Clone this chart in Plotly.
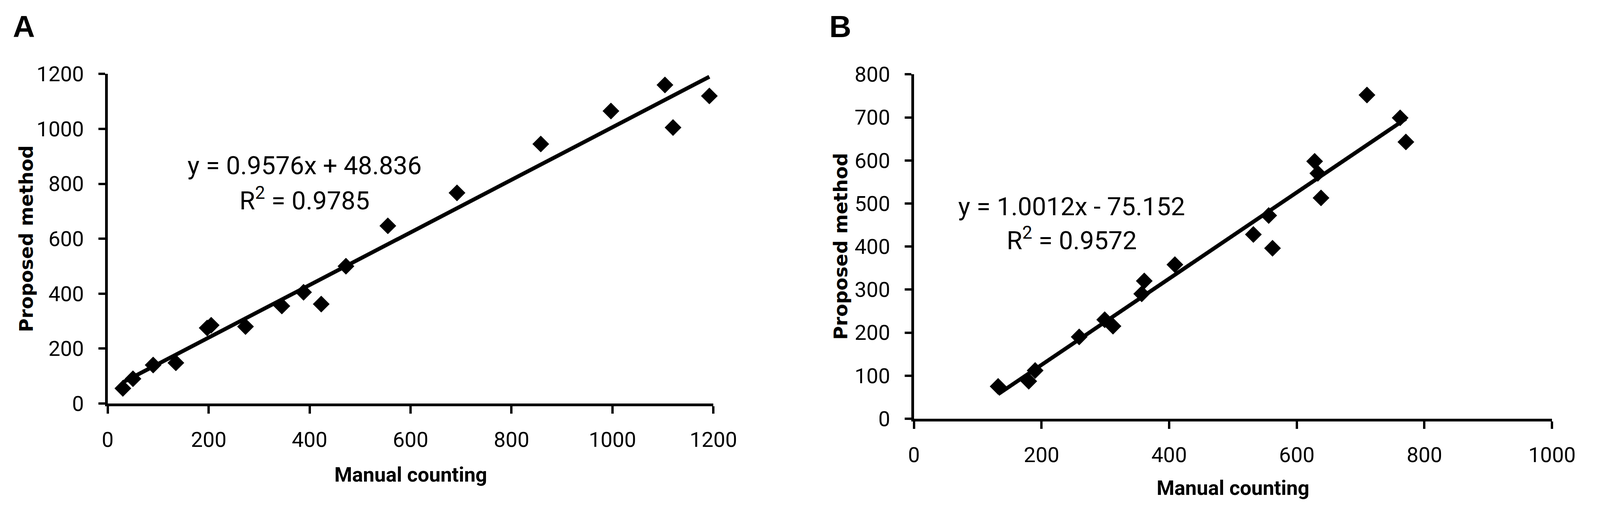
import plotly.graph_objects as go

# ---- Panel A data ----
a_manual = [30, 50, 90, 135, 197, 205, 273, 345, 388, 423, 472, 555, 692, 858, 997, 1104, 1120, 1192]
a_proposed = [55, 90, 140, 148, 275, 285, 280, 355, 405, 362, 500, 647, 767, 945, 1065, 1160, 1005, 1120]
a_trend_x = [30, 1192]
a_trend_y = [77, 1190]
a_eq = "y = 0.9576x + 48.836"
a_r2 = "R<sup>2</sup> = 0.9785"

# ---- Panel B data ----
b_manual = [132, 180, 190, 259, 299, 312, 357, 361, 409, 532, 556, 562, 628, 633, 638, 710, 762, 771]
b_proposed = [75, 87, 112, 190, 230, 215, 290, 320, 358, 428, 472, 396, 598, 570, 513, 752, 699, 643]
b_trend_x = [132, 771]
b_trend_y = [57, 697]
b_eq = "y = 1.0012x - 75.152"
b_r2 = "R<sup>2</sup> = 0.9572"

x_title = "Manual counting"
y_title = "Proposed method"
panel_labels = ["A", "B"]

# The browser viewport is 4096x1321 with an 8px body margin.
REF_W = 4550
VIEW_W, VIEW_H = 4096, 1321
OFF = 8
W, H = VIEW_W - OFF, VIEW_H - OFF
SX = VIEW_W / REF_W


def fx(xr):  # reference px -> paper fraction (x)
    return (xr * SX - OFF) / W


def fy(yr):  # reference px (from top) -> paper fraction (y)
    return 1 - (yr - OFF) / H


TICK_FONT = dict(family="Roboto", size=54, color="black")
EQ_FONT = dict(family="Roboto", size=65, color="black")
XT_FONT = dict(family="Roboto", size=52, color="black", weight="bold")
YT_FONT = dict(family="DejaVu Sans", size=48, color="black", weight="bold")
LBL_FONT = dict(family="Liberation Sans", size=78, color="black", weight="bold")

fig = go.Figure()

marker = dict(symbol="diamond", size=33, color="black", line=dict(width=0))
fig.add_trace(go.Scatter(x=a_manual, y=a_proposed, mode="markers", marker=marker,
                         xaxis="x", yaxis="y", cliponaxis=False, showlegend=False))
fig.add_trace(go.Scatter(x=a_trend_x, y=a_trend_y, mode="lines",
                         line=dict(color="black", width=10),
                         xaxis="x", yaxis="y", cliponaxis=False, showlegend=False))
fig.add_trace(go.Scatter(x=b_manual, y=b_proposed, mode="markers", marker=marker,
                         xaxis="x2", yaxis="y2", cliponaxis=False, showlegend=False))
fig.add_trace(go.Scatter(x=b_trend_x, y=b_trend_y, mode="lines",
                         line=dict(color="black", width=10),
                         xaxis="x2", yaxis="y2", cliponaxis=False, showlegend=False))

common = dict(showline=True, linecolor="black", linewidth=7, ticks="outside",
              tickwidth=6, tickcolor="black", showgrid=False,
              zeroline=False, tickfont=TICK_FONT, fixedrange=True)
xcommon = dict(ticklen=19, ticklabelstandoff=20, **common)
ycommon = dict(ticklen=17, ticklabelstandoff=26, **common)

fig.update_layout(
    width=W, height=H,
    margin=dict(l=0, r=0, t=0, b=0),
    paper_bgcolor="white", plot_bgcolor="white",
    xaxis=dict(domain=[fx(295), fx(2050)], range=[0, 1200], dtick=200, tick0=0,
               anchor="y", **xcommon),
    yaxis=dict(domain=[fy(1052), fy(166)], range=[0, 1200], dtick=200, tick0=0,
               anchor="x", **ycommon),
    xaxis2=dict(domain=[fx(2631), fx(4480)], range=[0, 1000], dtick=200, tick0=0,
                anchor="y2", **xcommon),
    yaxis2=dict(domain=[fy(1093), fy(167)], range=[0, 800], dtick=100, tick0=0,
                anchor="x2", **ycommon),
)

ann = []
ann.append(dict(x=390, y=866, xref="x", yref="y", text=a_eq, showarrow=False, font=EQ_FONT,
                xanchor="center", yanchor="middle"))
ann.append(dict(x=390, y=744, xref="x", yref="y", text=a_r2, showarrow=False, font=EQ_FONT,
                xanchor="center", yanchor="middle"))
ann.append(dict(x=247, y=493, xref="x2", yref="y2", text=b_eq, showarrow=False, font=EQ_FONT,
                xanchor="center", yanchor="middle"))
ann.append(dict(x=247, y=418, xref="x2", yref="y2", text=b_r2, showarrow=False, font=EQ_FONT,
                xanchor="center", yanchor="middle"))
ann.append(dict(x=0.5, y=-192 / 886, xref="x domain", yref="y domain", text=x_title,
                showarrow=False, font=XT_FONT, xanchor="center", yanchor="middle"))
ann.append(dict(x=0.5, y=-187 / 926, xref="x2 domain", yref="y2 domain", text=x_title,
                showarrow=False, font=XT_FONT, xanchor="center", yanchor="middle"))
ann.append(dict(x=-0.1345, y=0.5, xref="x domain", yref="y domain", text=y_title,
                showarrow=False, font=YT_FONT, textangle=-90, xanchor="center", yanchor="middle"))
ann.append(dict(x=-0.115, y=0.5, xref="x2 domain", yref="y2 domain", text=y_title,
                showarrow=False, font=YT_FONT, textangle=-90, xanchor="center", yanchor="middle"))
ann.append(dict(x=fx(18), y=fy(38), xref="paper", yref="paper", text=panel_labels[0],
                showarrow=False, font=LBL_FONT, xanchor="left", yanchor="middle"))
ann.append(dict(x=fx(2384), y=fy(38), xref="paper", yref="paper", text=panel_labels[1],
                showarrow=False, font=LBL_FONT, xanchor="left", yanchor="middle"))
fig.update_layout(annotations=ann)

fig.write_html("out.html")
